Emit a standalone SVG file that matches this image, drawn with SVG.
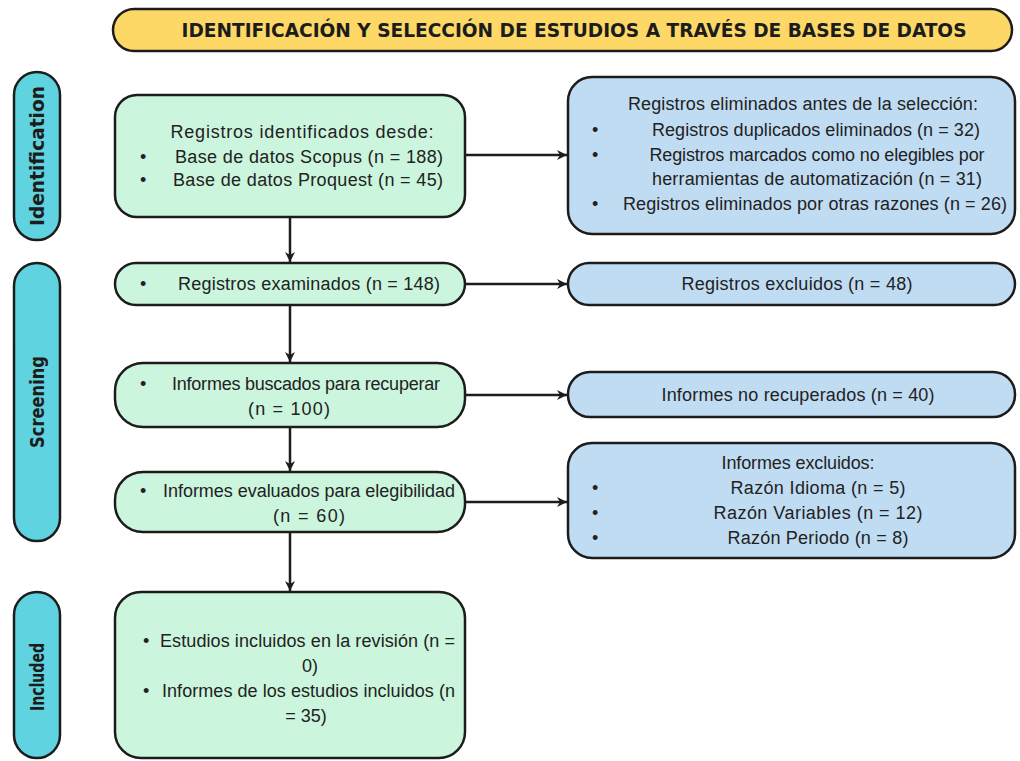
<svg xmlns="http://www.w3.org/2000/svg" width="1020" height="761" viewBox="0 0 1020 761">
<defs>
<style>
.stage{fill:#5fd3df;stroke:#1c1c1c;stroke-width:2.5}
.green{fill:#cbf5dd;stroke:#1c1c1c;stroke-width:2.5}
.blue{fill:#c0dcf3;stroke:#1c1c1c;stroke-width:2.5}
.banner{fill:#fdd866;stroke:#1c1c1c;stroke-width:2.5}
.t{font-family:"Liberation Sans","DejaVu Sans",sans-serif;font-size:18px;fill:#222}
.c{text-anchor:middle}
.st{font-family:"DejaVu Sans",sans-serif;font-stretch:condensed;font-weight:bold;font-size:19px;fill:#1c1c1c;text-anchor:middle}
.title{font-family:"DejaVu Sans",sans-serif;font-stretch:condensed;font-weight:bold;font-size:19px;fill:#1c1c1c;text-anchor:middle}
.conn{stroke:#1c1c1c;stroke-width:2.5;fill:none}
</style>
<marker id="ah" viewBox="0 0 12 12" refX="11" refY="6" markerWidth="12" markerHeight="12" markerUnits="userSpaceOnUse" orient="auto">
<path d="M1,1 L11,6 L1,11 L4,6 Z" fill="#1c1c1c"/>
</marker>
</defs>
<rect width="1020" height="761" fill="#ffffff"/>

<g id="title">
<rect class="banner" x="113" y="9" width="899" height="42" rx="21"/>
<text class="title" x="574" y="37" textLength="785" lengthAdjust="spacingAndGlyphs">IDENTIFICACIÓN Y SELECCIÓN DE ESTUDIOS A TRAVÉS DE BASES DE DATOS</text>
</g>

<g id="stage-identification">
<rect class="stage" x="14" y="72" width="46" height="168" rx="23"/>
<text class="st" transform="translate(44,156) rotate(-90)" textLength="140" lengthAdjust="spacingAndGlyphs">Identification</text>
</g>
<g id="stage-screening">
<rect class="stage" x="14" y="263" width="46" height="278" rx="23"/>
<text class="st" transform="translate(44,402) rotate(-90)" textLength="92" lengthAdjust="spacingAndGlyphs">Screening</text>
</g>
<g id="stage-included">
<rect class="stage" x="14" y="592" width="46" height="166" rx="23"/>
<text class="st" transform="translate(44,677) rotate(-90)" textLength="68" lengthAdjust="spacingAndGlyphs">Included</text>
</g>

<g id="identified">
<rect class="green" x="115" y="95" width="350" height="122" rx="22"/>
<text class="t c" x="302" y="138" textLength="263">Registros identificados desde:</text>
<text class="t" x="140" y="163">•</text>
<text class="t c" x="309" y="163" textLength="268">Base de datos Scopus (n = 188)</text>
<text class="t" x="140" y="186">•</text>
<text class="t c" x="308" y="186" textLength="270">Base de datos Proquest (n = 45)</text>
</g>

<g id="removed">
<rect class="blue" x="568" y="77" width="447" height="157" rx="24"/>
<text class="t c" x="803" y="110" textLength="350">Registros eliminados antes de la selección:</text>
<text class="t" x="592" y="136">•</text>
<text class="t c" x="816" y="136" textLength="328">Registros duplicados eliminados (n = 32)</text>
<text class="t" x="592" y="161">•</text>
<text class="t c" x="817" y="161" textLength="335">Registros marcados como no elegibles por</text>
<text class="t c" x="817" y="185" textLength="330">herramientas de automatización (n = 31)</text>
<text class="t" x="592" y="210">•</text>
<text class="t c" x="815" y="210" textLength="384">Registros eliminados por otras razones (n = 26)</text>
</g>

<g id="screened">
<rect class="green" x="115" y="263" width="350" height="42" rx="21"/>
<text class="t" x="140" y="290">•</text>
<text class="t c" x="309" y="290" textLength="262">Registros examinados (n = 148)</text>
</g>

<g id="excluded">
<rect class="blue" x="568" y="263" width="447" height="42" rx="21"/>
<text class="t c" x="797" y="290" textLength="231">Registros excluidos (n = 48)</text>
</g>

<g id="sought">
<rect class="green" x="115" y="363" width="350" height="64" rx="28"/>
<text class="t" x="140" y="390">•</text>
<text class="t c" x="306" y="390" textLength="268">Informes buscados para recuperar</text>
<text class="t c" x="289" y="415" textLength="82">(n = 100)</text>
</g>

<g id="not-retrieved">
<rect class="blue" x="568" y="372" width="447" height="45" rx="22"/>
<text class="t c" x="798" y="401" textLength="273">Informes no recuperados (n = 40)</text>
</g>

<g id="assessed">
<rect class="green" x="115" y="472" width="350" height="60" rx="28"/>
<text class="t" x="140" y="497">•</text>
<text class="t c" x="309" y="497" textLength="292">Informes evaluados para elegibilidad</text>
<text class="t c" x="309" y="522" textLength="72">(n = 60)</text>
</g>

<g id="reports-excluded">
<rect class="blue" x="568" y="443" width="447" height="115" rx="24"/>
<text class="t c" x="798" y="469" textLength="153">Informes excluidos:</text>
<text class="t" x="592" y="494">•</text>
<text class="t c" x="818" y="494" textLength="175">Razón Idioma (n = 5)</text>
<text class="t" x="592" y="519">•</text>
<text class="t c" x="818" y="519" textLength="209">Razón Variables (n = 12)</text>
<text class="t" x="592" y="544">•</text>
<text class="t c" x="818" y="544" textLength="181">Razón Periodo (n = 8)</text>
</g>

<g id="included">
<rect class="green" x="115" y="592" width="350" height="166" rx="26"/>
<text class="t" x="143" y="647">•</text>
<text class="t" x="160" y="647" textLength="295">Estudios incluidos en la revisión (n =</text>
<text class="t c" x="310" y="672">0)</text>
<text class="t" x="143" y="697">•</text>
<text class="t" x="162" y="697" textLength="293">Informes de los estudios incluidos (n</text>
<text class="t c" x="306" y="722">= 35)</text>
</g>

<g id="connectors">
<line class="conn" x1="290" y1="217" x2="290" y2="262" marker-end="url(#ah)"/>
<line class="conn" x1="290" y1="305" x2="290" y2="362" marker-end="url(#ah)"/>
<line class="conn" x1="290" y1="427" x2="290" y2="471" marker-end="url(#ah)"/>
<line class="conn" x1="290" y1="532" x2="290" y2="591" marker-end="url(#ah)"/>
<line class="conn" x1="465" y1="155" x2="567" y2="155" marker-end="url(#ah)"/>
<line class="conn" x1="465" y1="284" x2="567" y2="284" marker-end="url(#ah)"/>
<line class="conn" x1="465" y1="395" x2="567" y2="395" marker-end="url(#ah)"/>
<line class="conn" x1="465" y1="502" x2="567" y2="502" marker-end="url(#ah)"/>
</g>
</svg>
